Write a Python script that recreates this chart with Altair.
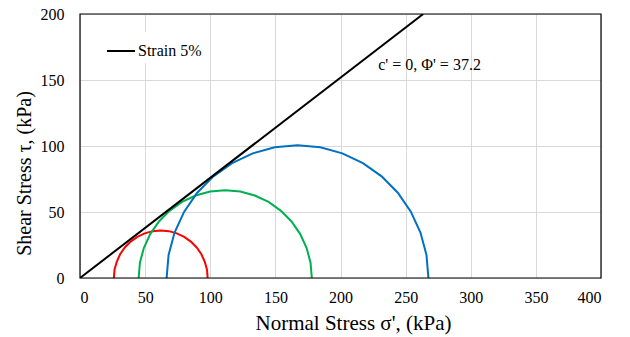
import altair as alt
import pandas as pd

# Failure envelope (Strain 5%)
env_x = [0, 263.5]
env_y = [0, 200]

# Mohr circles
red_x = [26, 26.5, 28.2, 30.8, 34.4, 38.9, 44, 49.7, 55.7, 62, 68.3, 74.3, 80, 85.1, 89.6, 93.2, 95.8, 97.5, 98]
red_y = [0, 6.3, 12.3, 18, 23.1, 27.6, 31.2, 33.8, 35.5, 36, 35.5, 33.8, 31.2, 27.6, 23.1, 18, 12.3, 6.3, 0]

green_x = [45, 46, 49, 53.9, 60.6, 68.7, 78.3, 88.8, 99.9, 111.5, 123.1, 134.2, 144.8, 154.3, 162.4, 169.1, 174, 177, 178]
green_y = [0, 11.6, 22.7, 33.25, 42.8, 50.9, 57.6, 62.5, 65.5, 66.5, 65.5, 62.5, 57.6, 50.9, 42.8, 33.25, 22.7, 11.6, 0]

blue_x = [66.5, 68, 72.6, 80, 90, 102.4, 116.8, 132.6, 149.5, 167, 184.5, 201.4, 217.2, 231.6, 244, 254, 261.4, 266, 267.5]
blue_y = [0, 17.5, 34.4, 50.25, 64.6, 77, 87, 94.4, 99, 100.5, 99, 94.4, 87, 77, 64.6, 50.25, 34.4, 17.5, 0]

x_ticks = [0, 50, 100, 150, 200, 250, 300, 350, 400]
y_ticks = [0, 50, 100, 150, 200]

annot_text = ["c' = 0, Φ' = 37.2"]
annot_x = [229]
annot_y = [161]

FONT = "Liberation Serif"

xs = alt.Scale(domain=[0, 400], nice=False)
ys = alt.Scale(domain=[0, 200], nice=False)

x_axis = alt.Axis(values=x_ticks, title="Normal Stress σ', (kPa)", grid=True, ticks=False,
                  domain=False, labelPadding=11, titlePadding=7, titleX=273,
                  labelFont=FONT, labelFontSize=16, labelColor="black", labelFontWeight="normal",
                  titleFont=FONT, titleFontSize=21, titleFontWeight="normal", titleColor="black",
                  gridColor="#D9D9D9")
y_axis = alt.Axis(values=y_ticks, title="Shear Stress τ,  (kPa)", grid=True, ticks=False,
                  domain=False, labelPadding=16, titlePadding=6, titleY=159,
                  labelFont=FONT, labelFontSize=16, labelColor="black", labelFontWeight="normal",
                  titleFont=FONT, titleFontSize=20, titleFontWeight="normal", titleColor="black",
                  gridColor="#D9D9D9")

def circle(xv, yv, color):
    df = pd.DataFrame({"x": xv, "y": yv, "i": list(range(len(xv)))})
    return alt.Chart(df).mark_line(strokeWidth=2, color=color, clip=True).encode(
        x=alt.X("x:Q", scale=xs, axis=x_axis),
        y=alt.Y("y:Q", scale=ys, axis=y_axis),
        order="i:Q",
    )

env_df = pd.DataFrame({"x": env_x, "y": env_y, "s": ["Strain 5%"] * len(env_x)})
env = alt.Chart(env_df).mark_line(strokeWidth=2, clip=True).encode(
    x=alt.X("x:Q", scale=xs, axis=x_axis),
    y=alt.Y("y:Q", scale=ys, axis=y_axis),
    color=alt.Color("s:N", scale=alt.Scale(domain=["Strain 5%"], range=["black"]),
                    legend=alt.Legend(title=None, orient="none", legendX=22, legendY=18,
                                      symbolType="stroke", symbolSize=784, symbolStrokeWidth=2,
                                      labelFont=FONT, labelFontSize=16, labelColor="black",
                                      labelFontWeight="normal",
                                      labelOffset=2, fillColor="white", padding=4)),
)

ann_df = pd.DataFrame({"t": annot_text, "x": annot_x, "y": annot_y})
ann = alt.Chart(ann_df).mark_text(align="left", baseline="middle", font=FONT, fontSize=16,
                                   fontWeight="normal", color="black").encode(
    x=alt.X("x:Q", scale=xs), y=alt.Y("y:Q", scale=ys), text="t:N")

frame = alt.Chart(pd.DataFrame({"a": [0]})).mark_rect(fill=None, stroke="black", strokeWidth=1.2).encode(
    x=alt.value(0), x2=alt.value(521), y=alt.value(0), y2=alt.value(264))

chart = alt.layer(
    circle(red_x, red_y, "#FF0000"),
    circle(green_x, green_y, "#00B050"),
    circle(blue_x, blue_y, "#0070C0"),
    env,
    ann,
    frame,
).properties(
    width=521, height=264,
    autosize=alt.AutoSizeParams(type="none"),
    padding={"left": 80, "top": 14, "right": 29, "bottom": 59},
    background="white",
).configure_view(stroke=None).configure(font=FONT)

chart.save("out.html", embed_options={"renderer": "svg", "actions": False})
